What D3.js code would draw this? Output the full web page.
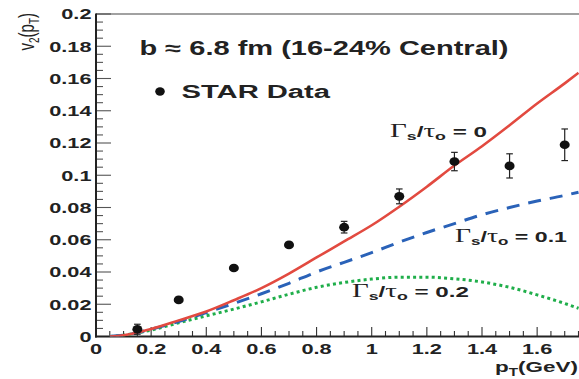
<!DOCTYPE html>
<html><head><meta charset="utf-8">
<script src="https://cdn.jsdelivr.net/npm/d3@7"></script>
<style>
html,body{margin:0;padding:0;background:#fff;}
svg{display:block;font-family:"Liberation Sans",Arial,Helvetica,sans-serif;font-weight:bold;}
</style></head>
<body>
<svg id="c" width="579" height="379"></svg>
<script>
// ---- data ----
const ptX   = [0.15, 0.3, 0.5, 0.7, 0.9, 1.1, 1.3, 1.5, 1.7];
const ptY   = [0.0045, 0.0227, 0.0425, 0.0568, 0.0678, 0.0869, 0.1085, 0.1058, 0.1189];
const ptErr = [0.0031, 0.0015, 0.0015, 0.0015, 0.0036, 0.0046, 0.0057, 0.0075, 0.0098];

const curveX = [0.05, 0.1, 0.15, 0.2, 0.3, 0.4, 0.5, 0.6, 0.7, 0.8, 0.9, 1.0, 1.1, 1.2, 1.3, 1.4, 1.5, 1.6, 1.7, 1.75];
const red0   = [0, 0.0008, 0.0025, 0.0047, 0.0100, 0.0155, 0.0225, 0.0300, 0.0390, 0.0490, 0.0590, 0.0690, 0.0805, 0.0929, 0.1060, 0.1180, 0.1310, 0.1445, 0.1570, 0.1635];
const blue01 = [0, 0.0008, 0.0024, 0.0045, 0.0093, 0.0148, 0.0205, 0.0265, 0.0330, 0.0400, 0.0460, 0.0520, 0.0585, 0.0645, 0.0700, 0.0755, 0.0800, 0.0840, 0.0875, 0.0895];
const green02= [0, 0.0008, 0.0022, 0.0040, 0.0085, 0.0128, 0.0170, 0.0215, 0.0262, 0.0305, 0.0335, 0.0356, 0.0368, 0.0368, 0.0358, 0.0338, 0.0305, 0.0258, 0.0205, 0.0175];

const yTicks = [0, 0.02, 0.04, 0.06, 0.08, 0.1, 0.12, 0.14, 0.16, 0.18, 0.2];
const xTicks = [0, 0.2, 0.4, 0.6, 0.8, 1, 1.2, 1.4, 1.6];

// ---- scales ----
const svg = d3.select("#c");
const x = d3.scaleLinear().domain([0, 1.75]).range([96, 578.5]);
const y = d3.scaleLinear().domain([0, 0.2]).range([336.5, 14]);
const SX = 1.45; // horizontal stretch of the original figure's text

// frame top
svg.append("line").attr("x1", 96).attr("x2", 579).attr("y1", 14).attr("y2", 14)
  .attr("stroke", "#444").attr("stroke-width", 1.2);

// y minor/major ticks
const yMinor = d3.range(0, 41).map(i => i * 0.005);
svg.append("g").selectAll("line").data(yMinor).join("line")
  .attr("x1", 96).attr("x2", (d, i) => i % 4 === 0 ? 111 : 103)
  .attr("y1", d => y(d)).attr("y2", d => y(d))
  .attr("stroke", "#555").attr("stroke-width", 1.1);
// x ticks
const xMinor = d3.range(0, 36).map(i => i * 0.05);
svg.append("g").selectAll("line").data(xMinor).join("line")
  .attr("x1", d => x(d)).attr("x2", d => x(d))
  .attr("y1", 336.5).attr("y2", (d, i) => i % 4 === 0 ? 327 : 331)
  .attr("stroke", "#333").attr("stroke-width", 1.1);

// axes lines
svg.append("line").attr("x1", 96).attr("x2", 96).attr("y1", 13.5).attr("y2", 337.5)
  .attr("stroke", "#222").attr("stroke-width", 2);
svg.append("line").attr("x1", 95).attr("x2", 579).attr("y1", 336.5).attr("y2", 336.5)
  .attr("stroke", "#222").attr("stroke-width", 2);

// tick labels
const fmt = v => String(+v.toFixed(2));
svg.append("g").selectAll("text").data(yTicks).join("text")
  .attr("transform", d => `translate(91.5,${y(d) + 5.3}) scale(${SX},1)`)
  .attr("text-anchor", "end")
  .attr("font-size", 15).attr("fill", "#222").text(fmt);
svg.append("g").selectAll("text").data(xTicks).join("text")
  .attr("transform", d => `translate(${x(d)},353.5) scale(${SX},1)`)
  .attr("text-anchor", "middle")
  .attr("font-size", 15).attr("fill", "#222").text(fmt);

// axis titles
const yt = svg.append("text").attr("transform", `translate(33.5,13) rotate(-90) scale(1,${SX})`)
  .attr("text-anchor", "end").attr("font-size", 15).attr("fill", "#222")
  .attr("font-weight", "normal");
yt.append("tspan").text("v");
yt.append("tspan").attr("font-size", 10).attr("dy", 3.5).text("2");
yt.append("tspan").attr("dy", -3.5).text("(p");
yt.append("tspan").attr("font-size", 10).attr("dy", 3.5).text("T");
yt.append("tspan").attr("dy", -3.5).text(")");

const xt = svg.append("text").attr("transform", `translate(578,372) scale(${SX},1)`).attr("text-anchor", "end")
  .attr("font-size", 15.5).attr("fill", "#222");
xt.append("tspan").text("p");
xt.append("tspan").attr("font-size", 10.5).attr("dy", 3.5).text("T");
xt.append("tspan").attr("dy", -3.5).text("(GeV)");

// curves
const line = d3.line().x(d => x(d[0])).y(d => y(d[1])).curve(d3.curveMonotoneX);
svg.append("clipPath").attr("id", "pc").append("rect")
  .attr("x", 96).attr("y", 14).attr("width", 483).attr("height", 322.5);
const g = svg.append("g").attr("clip-path", "url(#pc)");
g.append("path").datum(curveX.map((v, i) => [v, green02[i]])).attr("d", line)
  .attr("fill", "none").attr("stroke", "#1fae4a").attr("stroke-width", 3).attr("stroke-dasharray", "3,3.2");
g.append("path").datum(curveX.map((v, i) => [v, blue01[i]])).attr("d", line)
  .attr("fill", "none").attr("stroke", "#2a62b8").attr("stroke-width", 3).attr("stroke-dasharray", "13,9");
g.append("path").datum(curveX.map((v, i) => [v, red0[i]])).attr("d", line)
  .attr("fill", "none").attr("stroke", "#e24a40").attr("stroke-width", 2.6);

// data points with error bars
const pts = ptX.map((v, i) => ({x: v, y: ptY[i], e: ptErr[i]}));
const pg = svg.append("g").selectAll("g").data(pts).join("g");
pg.append("line").attr("x1", d => x(d.x)).attr("x2", d => x(d.x))
  .attr("y1", d => y(d.y + d.e)).attr("y2", d => y(d.y - d.e)).attr("stroke", "#222").attr("stroke-width", 1.2);
pg.append("line").attr("x1", d => x(d.x) - 3.3).attr("x2", d => x(d.x) + 3.3)
  .attr("y1", d => y(d.y + d.e)).attr("y2", d => y(d.y + d.e)).attr("stroke", "#222").attr("stroke-width", 1.2);
pg.append("line").attr("x1", d => x(d.x) - 3.3).attr("x2", d => x(d.x) + 3.3)
  .attr("y1", d => y(d.y - d.e)).attr("y2", d => y(d.y - d.e)).attr("stroke", "#222").attr("stroke-width", 1.2);
pg.append("ellipse").attr("cx", d => x(d.x)).attr("cy", d => y(d.y))
  .attr("rx", 5).attr("ry", 4.3).attr("fill", "#111");

// title & legend
function fitText(sel, w) {
  sel.attr("textLength", w).attr("lengthAdjust", "spacingAndGlyphs");
}
const t1 = svg.append("text").attr("x", 139.5).attr("y", 55).attr("font-size", 19.5).attr("fill", "#222")
  .text("b \u2248 6.8 fm (16-24% Central)");
fitText(t1, 369);
svg.append("ellipse").attr("cx", 160).attr("cy", 91.5).attr("rx", 4.8).attr("ry", 4.2).attr("fill", "#111");
const t2 = svg.append("text").attr("x", 181.5).attr("y", 97.5).attr("font-size", 18).attr("fill", "#222").text("STAR Data");
fitText(t2, 148.5);

// gamma labels
function gammaLabel(xs, yb, val, w) {
  const t = svg.append("text").attr("x", xs).attr("y", yb).attr("fill", "#222").attr("font-size", 15);
  t.append("tspan").attr("font-family", "'Liberation Serif','Times New Roman',serif").attr("font-weight", "normal").attr("font-size", 18).text("\u0393");
  t.append("tspan").attr("font-size", 11).attr("dy", 3).text("s");
  t.append("tspan").attr("dy", -3).text("/");
  t.append("tspan").attr("font-family", "'Liberation Serif','Times New Roman',serif").attr("font-weight", "normal").attr("font-size", 18).text("\u03c4");
  t.append("tspan").attr("font-size", 11).attr("dy", 3).text("o");
  t.append("tspan").attr("dy", -3).text(" = " + val);
  const bw = t.node().getComputedTextLength();
  const s = w / bw;
  t.attr("transform", `translate(${xs},0) scale(${s},1) translate(${-xs},0)`);
}
gammaLabel(390, 137, "0", 97);
gammaLabel(455, 242, "0.1", 112);
gammaLabel(352, 297.5, "0.2", 117);
</script>
</body></html>
